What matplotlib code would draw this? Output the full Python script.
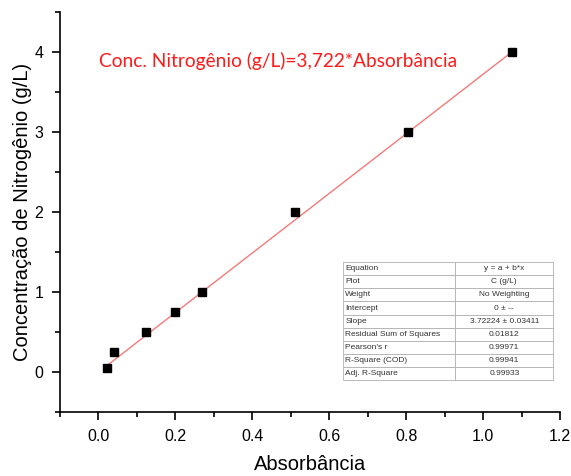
import matplotlib
matplotlib.use("Agg")
import matplotlib.pyplot as plt
import numpy as np
from matplotlib.ticker import MultipleLocator, FormatStrFormatter

# calibration points
absorbancia = [0.022, 0.040, 0.123, 0.198, 0.268, 0.510, 0.805, 1.075]
conc_n = [0.05, 0.25, 0.50, 0.75, 1.00, 2.00, 3.00, 4.00]
slope = 3.72224

fit_rows = [
    ("Equation", "y = a + b*x"),
    ("Plot", "C (g/L)"),
    ("Weight", "No Weighting"),
    ("Intercept", "0 \u00b1 --"),
    ("Slope", "3.72224 \u00b1 0.03411"),
    ("Residual Sum of Squares", "0.01812"),
    ("Pearson's r", "0.99971"),
    ("R-Square (COD)", "0.99941"),
    ("Adj. R-Square", "0.99933"),
]

plt.rcParams["font.family"] = ["Liberation Sans", "DejaVu Sans"]

fig = plt.figure(figsize=(5.71, 4.76), dpi=100)
ax = fig.add_axes([0.105, 0.134, 0.876, 0.841])

x_fit = np.array([absorbancia[0], absorbancia[-1]])
ax.plot(x_fit, slope * x_fit, color="#f47a7a", linewidth=1.0, zorder=2)
ax.plot(absorbancia, conc_n, linestyle="none", marker="s", markersize=6,
        color="black", zorder=3)

ax.set_xlim(-0.1, 1.2)
ax.set_ylim(-0.5, 4.5)
ax.xaxis.set_major_locator(MultipleLocator(0.2))
ax.xaxis.set_minor_locator(MultipleLocator(0.1))
ax.xaxis.set_major_formatter(FormatStrFormatter("%.1f"))
ax.yaxis.set_major_locator(MultipleLocator(1))
ax.yaxis.set_minor_locator(MultipleLocator(0.5))

for side in ("top", "right"):
    ax.spines[side].set_visible(False)
for side in ("left", "bottom"):
    ax.spines[side].set_linewidth(1.2)
ax.tick_params(which="major", direction="out", length=6, width=1.2,
               labelsize=11.5, pad=6)
ax.tick_params(which="minor", direction="out", length=3.5, width=1.2)

ax.set_xlabel("Absorb\u00e2ncia", fontsize=14.5, labelpad=8)
ax.set_ylabel("Concentra\u00e7\u00e3o de Nitrog\u00eanio (g/L)", fontsize=14.5,
              labelpad=2)

ax.text(0.078, 0.878, "Conc. Nitrog\u00eanio (g/L)=3,722*Absorb\u00e2ncia",
        transform=ax.transAxes, color="#ff1a1a", fontsize=13.8,
        family=["Lato", "DejaVu Sans"], va="center", ha="left")

tbl = ax.table(cellText=[list(r) for r in fit_rows],
               colWidths=[0.535, 0.465],
               bbox=[0.566, 0.08, 0.42, 0.295],
               zorder=5)
tbl.auto_set_font_size(False)
tbl.set_fontsize(6)
for (r, c), cell in tbl.get_celld().items():
    cell.set_edgecolor("#b0b0b0")
    cell.set_linewidth(0.6)
    cell.set_facecolor("white")
    cell.get_text().set_color("#333333")
    if c == 0:
        cell.get_text().set_ha("left")
        cell.PAD = 0.02
    else:
        cell.get_text().set_ha("center")

fig.savefig("out.png", dpi=100)
